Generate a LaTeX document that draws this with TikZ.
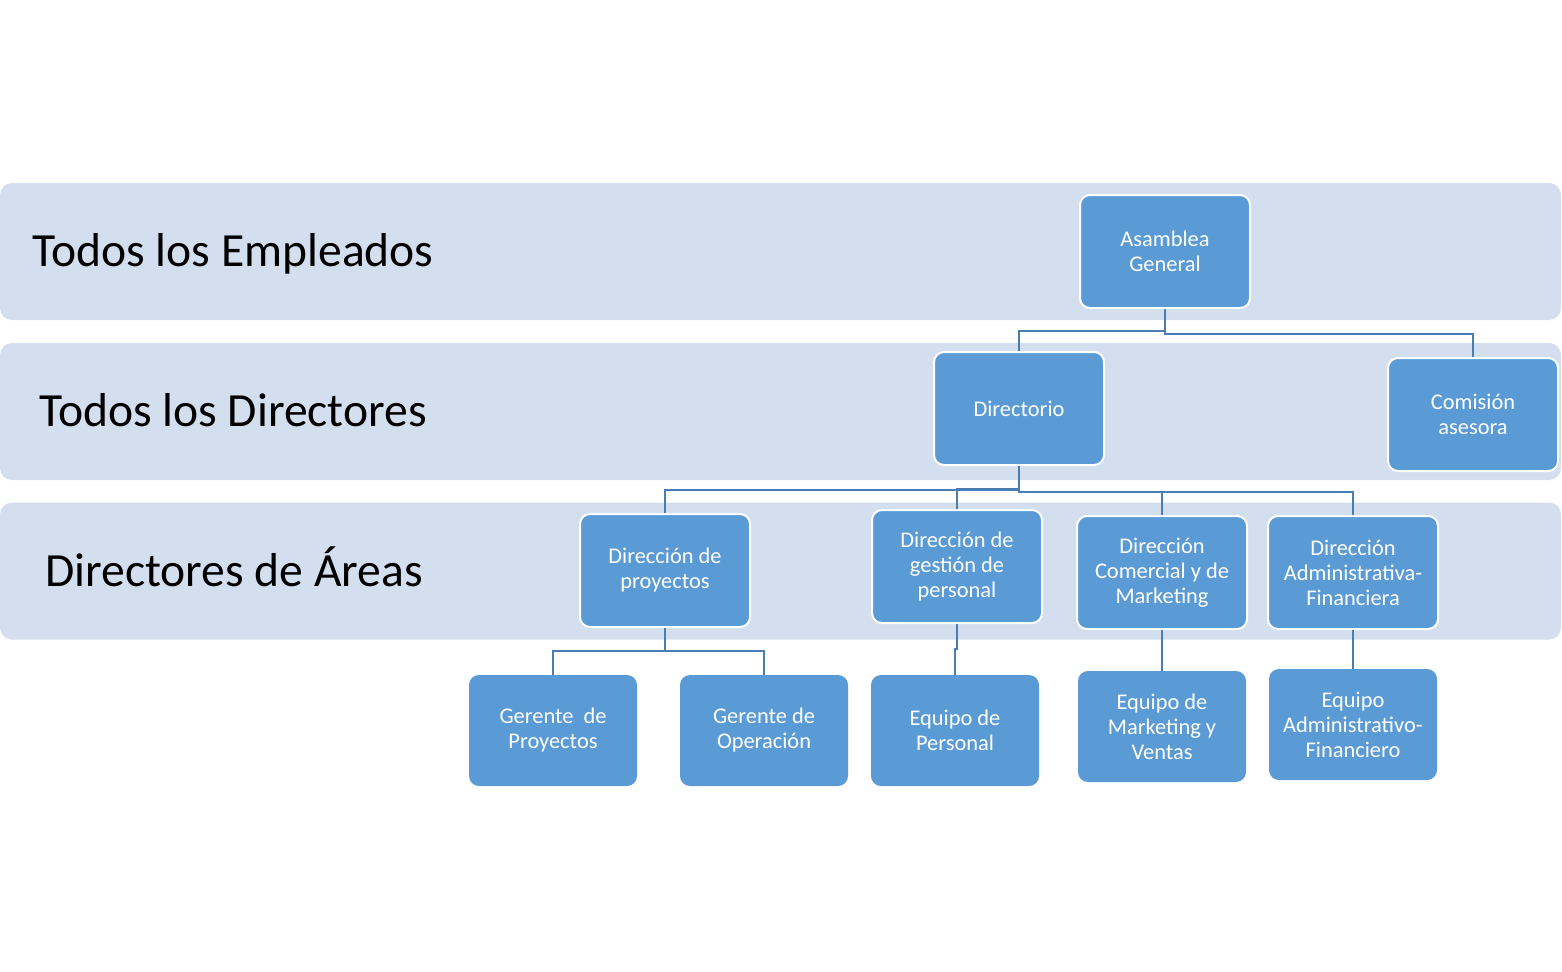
\documentclass[tikz,border=0pt]{standalone}
\usepackage{fontspec}
\setmainfont{Carlito}
\definecolor{bandfill}{HTML}{D3DEEF}
\definecolor{boxfill}{HTML}{5B9BD5}
\definecolor{linkcol}{HTML}{4A7DB4}
\tikzset{
  band/.style={fill=bandfill, rounded corners=6pt, minimum width=780.5pt, minimum height=68.5pt, inner sep=0pt},
  bandlabel/.style={font=\fontsize{23.8pt}{28pt}\selectfont, text=black, inner sep=0pt, anchor=base},
  upbox/.style={fill=boxfill, draw=white, line width=1pt, rounded corners=5pt, minimum width=85pt, minimum height=56.5pt, text=white, align=center, font=\fontsize{11.2pt}{12.5pt}\selectfont, inner sep=1pt},
  lowbox/.style={fill=boxfill, rounded corners=5pt, minimum width=84pt, minimum height=55.5pt, text=white, align=center, font=\fontsize{11.2pt}{12.5pt}\selectfont, inner sep=1pt},
  link/.style={draw=linkcol, line width=1.2pt}
}
\begin{document}
\begin{tikzpicture}[x=0.5pt, y=-0.5pt]
\useasboundingbox (0,0) rectangle (1562,971);
% bands
\node[band] (b1) at (780.5,251.5) {};
\node[band] (b2) at (780.5,411.5) {};
\node[band] (b3) at (780.5,571) {};
\node[bandlabel] (l1) at (233,266) {Todos los Empleados};
\node[bandlabel] (l2) at (233,426) {Todos los Directores};
\node[bandlabel] (l3) at (234,586) {Directores de Áreas};
% boxes
\node[upbox] (ag) at (1165,251.5) {Asamblea\\General};
\node[upbox] (dir) at (1019,408.5) {Directorio};
\node[upbox] (com) at (1473,414.5) {Comisión\\asesora};
\node[upbox] (dp) at (665,570.5) {Dirección de\\proyectos};
\node[upbox] (dg) at (957,566.5) {Dirección de\\gestión de\\personal};
\node[upbox] (dc) at (1162,572.5) {Dirección\\Comercial y de\\Marketing};
\node[upbox] (da) at (1353,572.5) {Dirección\\Administrativa-\\Financiera};
\node[lowbox] (gp) at (553,730.5) {Gerente\ \ de\\Proyectos};
\node[lowbox] (go) at (764,730.5) {Gerente de\\Operación};
\node[lowbox] (ep) at (955,730.5) {Equipo de\\Personal};
\node[lowbox] (em) at (1162,726.5) {Equipo de\\Marketing y\\Ventas};
\node[lowbox] (ea) at (1353,724.5) {Equipo\\Administrativo-\\Financiero};
% connectors
\draw[link] (ag.south) -- ++(0,22) -| (dir.north);
\draw[link] (ag.south) -- ++(0,25) -| (com.north);
\draw[link] (dir.south) -- ++(0,24) -| (dp.north);
\draw[link] (dir.south) -- ++(0,23) -| (dg.north);
\draw[link] (dir.south) -- ++(0,26) -| (dc.north);
\draw[link] (dir.south) -- ++(0,26) -| (da.north);
\draw[link] (dp.south) -- ++(0,23) -| (gp.north);
\draw[link] (dp.south) -- ++(0,23) -| (go.north);
\draw[link] (dg.south) -- ++(0,25) -| (ep.north);
\draw[link] (dc.south) -- (em.north);
\draw[link] (da.south) -- (ea.north);
\end{tikzpicture}
\end{document}
